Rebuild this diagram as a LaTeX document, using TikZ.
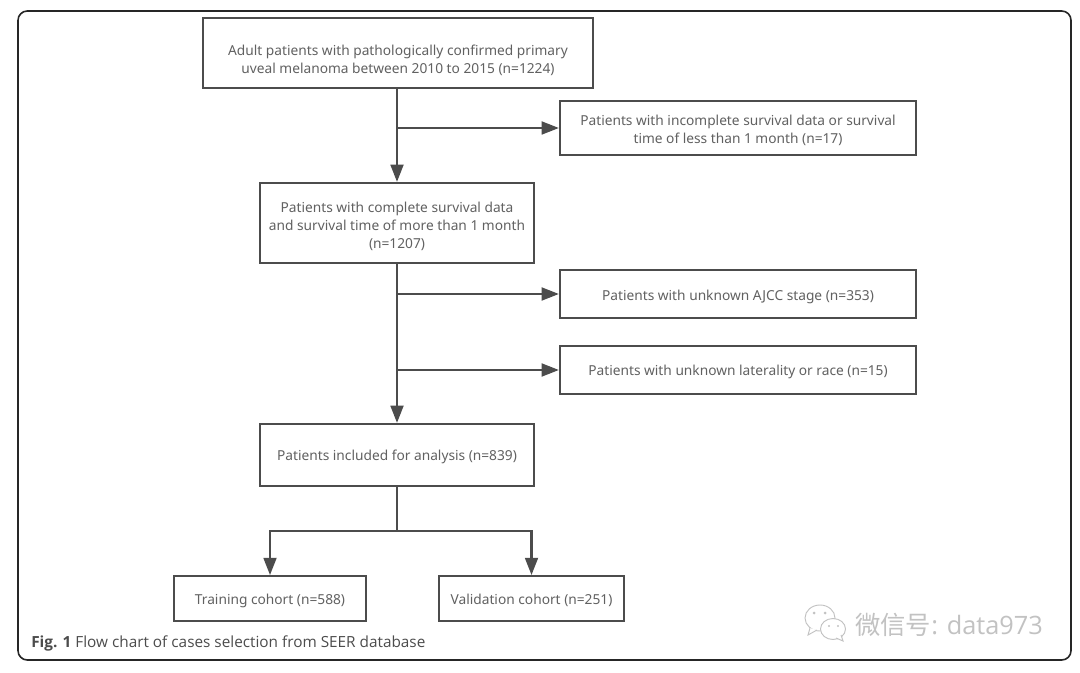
\documentclass[tikz,border=0pt]{standalone}
\usepackage{fontspec}
\setmainfont{Open Sans}
\newfontfamily\boxfont{Noto Sans}
\newfontfamily\cjkfont{Noto Sans CJK SC}
\usetikzlibrary{arrows.meta}
\definecolor{linegray}{gray}{0.3}
\definecolor{textgray}{gray}{0.38}
\definecolor{markgray}{gray}{0.76}
\newcommand{\droptext}[1]{\rule{0pt}{0pt}\\[#1]}
\tikzset{
    flowbox/.style={draw=linegray, line width=1.5pt, align=center, text=textgray, font=\boxfont\fontsize{10.3}{13.6}\selectfont, inner sep=0pt},
    flowline/.style={draw=linegray, line width=2.1pt},
    flowarrow/.style={flowline, -{Triangle[length=13pt,width=9.5pt]}, shorten >=0pt}
}
\begin{document}
\begin{tikzpicture}[x=0.75pt,y=-0.75pt]
    \useasboundingbox (0,0) rectangle (1080,673);
    \fill[white] (0,0) rectangle (1080,673);
    \draw[black!85, line width=1.2pt, rounded corners=7pt] (18,11) rectangle (1071,660);

    % Boxes
    \node[flowbox, minimum width=292.5pt, minimum height=52pt] (adult) at (398,53) {\droptext{5.2pt}Adult patients with pathologically confirmed primary\\uveal melanoma between 2010 to 2015 (n=1224)};
    \node[flowbox, minimum width=267pt, minimum height=40pt] (incomplete) at (738,128) {\droptext{-2.3pt}Patients with incomplete survival data or survival\\time of less than 1 month (n=17)};
    \node[flowbox, minimum width=205.5pt, minimum height=60pt] (complete) at (397,223) {\droptext{-0.8pt}Patients with complete survival data\\and survival time of more than 1 month\\(n=1207)};
    \node[flowbox, minimum width=267pt, minimum height=36pt] (ajcc) at (738,294) {\droptext{-0.8pt}Patients with unknown AJCC stage (n=353)};
    \node[flowbox, minimum width=267pt, minimum height=36pt] (laterality) at (738,370) {\droptext{-2.3pt}Patients with unknown laterality or race (n=15)};
    \node[flowbox, minimum width=205.5pt, minimum height=46.5pt] (included) at (397,455) {\droptext{-2.3pt}Patients included for analysis (n=839)};
    \node[flowbox, minimum width=144pt, minimum height=33.5pt] (training) at (270,598.5) {\droptext{-2.3pt}Training cohort (n=588)};
    \node[flowbox, minimum width=139pt, minimum height=33.5pt] (validation) at (531.5,598.5) {\droptext{-2.3pt}Validation cohort (n=251)};

    % Junctions
    \coordinate (splita) at (397,128);
    \coordinate (splitb) at (397,294);
    \coordinate (splitc) at (397,370);
    \coordinate (splitd) at (397,531);

    % Connectors
    \draw[flowarrow] (adult.south -| splita) -- (complete.north -| splita);
    \draw[flowarrow] (splita) -- (incomplete.west);
    \draw[flowarrow] (complete.south -| splitb) -- (included.north -| splitb);
    \draw[flowarrow] (splitb) -- (ajcc.west);
    \draw[flowarrow] (splitc) -- (laterality.west);
    \draw[flowline] (included.south -| splitd) -- (splitd);
    \draw[flowarrow] (splitd) -| (training.north);
    \draw[flowarrow] (splitd) -| (validation.north);

    % Caption
    \node[anchor=base west, inner sep=0pt, text=black!70, font=\fontsize{11.5}{13}\selectfont] (caption) at (31,647) {\textbf{Fig. 1} Flow chart of cases selection from SEER database};

    % Watermark
    \draw[markgray, line width=0.7pt, fill=white] (820,618) ellipse (15 and 13);
    \draw[markgray, line width=0.7pt, fill=white] (810,628) -- (808,635) -- (817,630);
    \foreach \x in {814,825} {
        \fill[markgray] (\x,613) circle (1.5);
    }
    \draw[markgray, line width=0.7pt, fill=white] (833,629) ellipse (12.5 and 10.5);
    \draw[markgray, line width=0.7pt, fill=white] (836,638) -- (843,641) -- (841,635);
    \foreach \x in {829,838} {
        \fill[markgray] (\x,626) circle (1.2);
    }
    \node[anchor=base west, inner sep=0pt, text=markgray, font=\fontsize{19}{20}\selectfont] (mark) at (855,634) {{\cjkfont 微信号}: data973};
\end{tikzpicture}
\end{document}
